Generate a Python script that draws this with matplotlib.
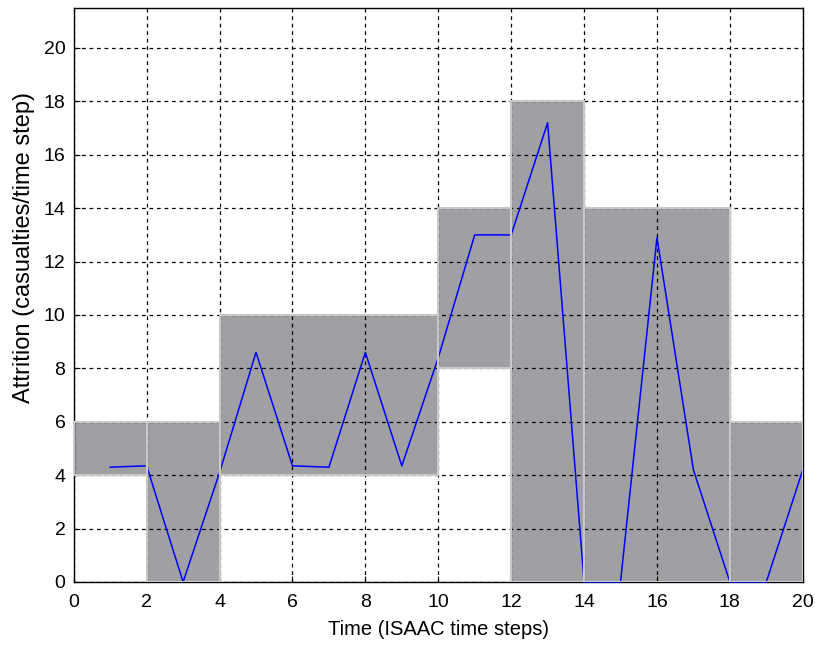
import matplotlib.pyplot as plt
from matplotlib.patches import Rectangle

plt.rcParams['font.family'] = ['Liberation Sans', 'DejaVu Sans']

# --- DATA ---
# gray bands: (start, end, low, high)
band_start = [0, 2, 4, 10, 12, 14, 18]
band_end = [2, 4, 10, 12, 14, 18, 20]
band_low = [4, 0, 4, 8, 0, 0, 0]
band_high = [6, 6, 10, 14, 18, 14, 6]

# attrition per time step
time_steps = list(range(1, 21))
attrition = [4.3, 4.35, 0, 4.1, 8.6, 4.35, 4.3, 8.6, 4.35, 8.4,
             13.0, 13.0, 17.2, 0, 0, 12.9, 4.2, 0, 0, 4.2]

fig = plt.figure(figsize=(8.15, 6.45), dpi=100)
ax = fig.add_axes([0.0905, 0.0977, 0.8945, 0.89])

# band fills
for s, e, lo, hi in zip(band_start, band_end, band_low, band_high):
    ax.add_patch(Rectangle((s, lo), e - s, hi - lo, facecolor='#a09fa4',
                           edgecolor='none', zorder=1))

ax.plot(time_steps, attrition, color='#0000ff', linewidth=1.1, zorder=6,
        clip_on=False)

# band outlines drawn over the line
for s, e, lo, hi in zip(band_start, band_end, band_low, band_high):
    ax.add_patch(Rectangle((s, lo), e - s, hi - lo, fill=False,
                           edgecolor='#c8c8c8', linewidth=1.5, zorder=7))

ax.set_xlim(0, 20)
ax.set_ylim(0, 21.5)
ax.set_xticks(range(0, 21, 2))
ax.set_yticks(range(0, 21, 2))
ax.set_axisbelow(False)
ax.grid(True, color='black', linestyle=(0, (3, 3)), linewidth=0.9)
for gl in ax.get_xgridlines() + ax.get_ygridlines():
    gl.set_zorder(8)

ax.tick_params(direction='in', length=4, labelsize=14, color='black')
ax.tick_params(axis='x', pad=9)
ax.tick_params(axis='y', pad=6)
ax.set_xlabel('Time (ISAAC time steps)', fontsize=14.5, labelpad=6)
fig.text(0.030, 0.617, 'Attrition (casualties/time step)', fontsize=17,
         rotation=90, ha='center', va='center')
for sp in ax.spines.values():
    sp.set_linewidth(1.0)
    sp.set_zorder(5)

fig.savefig('out.png', dpi=100)
